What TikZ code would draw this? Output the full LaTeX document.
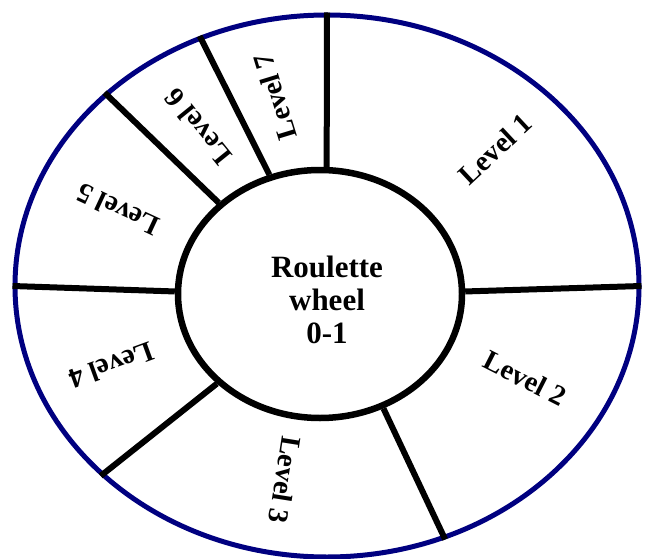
\documentclass[tikz,border=0pt]{standalone}
\usepackage{fontspec}
\setmainfont{Liberation Serif}
\usetikzlibrary{shapes.geometric}
\definecolor{rimblue}{RGB}{0,0,128}

\begin{document}
\begin{tikzpicture}[x=1pt,y=-1pt,
        lvl/.style={font=\bfseries\fontsize{28.5}{30}\selectfont, inner sep=0pt},
        spoke/.style={line width=6pt}]
    \useasboundingbox (0,0) rectangle (645,559);

    % outer rim and hub
    \node[ellipse, draw=rimblue, line width=5pt, minimum width=624pt, minimum height=542pt] (rim) at (327,286) {};
    \node[ellipse, draw, fill=white, line width=6.5pt, minimum width=284pt, minimum height=248pt] (hub) at (320,294) {};
    \node[align=center, font=\bfseries\fontsize{31}{33}\selectfont] (hubtext) at (327,300) {Roulette\\wheel\\0-1};

    % dividers
    \foreach \a/\b in {87/90, 1/0, 299/295.5, 221/220.8, 179/180, 138/139.2, 113/117}
        \draw[spoke] (hub.\a) -- (rim.\b);

    \node[lvl, rotate=43] (lvl1) at (495,149) {Level 1};
    \node[lvl, rotate=-27] (lvl2) at (525,378) {Level 2};
    \node[lvl, rotate=-99] (lvl3) at (285,480) {Level 3};
    \node[lvl, rotate=200] (lvl4) at (112,366) {Level 4};
    \node[lvl, rotate=155] (lvl5) at (118,210) {Level 5};
    \node[lvl, rotate=129] (lvl6) at (198,127) {Level 6};
    \node[lvl, rotate=107] (lvl7) at (275,97) {Level 7};
\end{tikzpicture}
\end{document}
